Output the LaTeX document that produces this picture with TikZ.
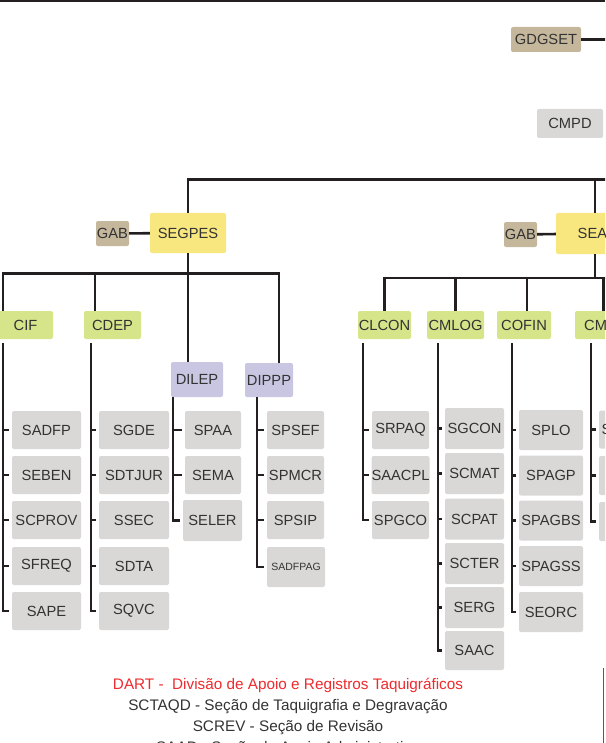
\documentclass[tikz,border=0pt]{standalone}
\usepackage{fontspec}
\setmainfont{Liberation Sans}
\usepackage{tikz}
\usetikzlibrary{positioning}
\definecolor{traco}{HTML}{231F20}
\definecolor{tinta}{HTML}{333333}
\definecolor{areia}{HTML}{C5B79B}
\definecolor{cinza}{HTML}{D9D8D6}
\definecolor{amarelo}{HTML}{F8E77F}
\definecolor{verde}{HTML}{D6E58A}
\definecolor{lilas}{HTML}{C9C6E2}
\definecolor{vermelho}{HTML}{EE2A2E}
\definecolor{borda}{HTML}{5A5A5A}
\tikzset{
  every node/.style={font=\fontsize{14.7}{16}\selectfont,text=tinta},
  caixa/.style={rounded corners=2pt,inner sep=0pt,align=center},
  gabinete/.style={caixa,fill=areia,minimum height=25pt},
  secao/.style={caixa,fill=cinza,minimum height=38pt},
  coordena/.style={caixa,fill=verde,minimum height=28pt},
  divisao/.style={caixa,fill=lilas,minimum height=35pt},
  secretaria/.style={caixa,fill=amarelo,minimum height=40pt},
  linha/.style={draw=traco,line width=2.6pt},
  legenda/.style={font=\fontsize{15.3}{18}\selectfont},
}
\begin{document}
\begin{tikzpicture}[x=1pt,y=-1pt]
\useasboundingbox (0,0) rectangle (605,743);
\clip (0,0) rectangle (605,743);
\fill[traco] (0,0) rectangle (605,2.3);

\node[gabinete,minimum width=70pt] (gdgset) at (546,39.5) {GDGSET};
\coordinate (gdgR) at (612,39.5);
\draw[linha] (gdgset) -- (gdgR);
\node[secao,minimum width=66pt,minimum height=29pt] (cmpd) at (570,123.5) {CMPD};

\node[secretaria,minimum width=76pt] (segpes) at (188,233) {SEGPES};
\node[gabinete,minimum width=33pt] (gab1) at (112.5,233.5) {GAB};
\node[secretaria,minimum width=78pt,minimum height=41pt] (sea) at (595,233.5) {};
\node[anchor=west,inner sep=0pt] (seatxt) at (577.5,233.5) {SEA};
\node[gabinete,minimum width=33pt] (gab2) at (520.5,234.5) {GAB};
\coordinate (busR) at (612,179.5);
\draw[linha] (segpes.north) |- (busR);
\draw[linha] (sea.north) -- (sea.north |- busR);
\draw[linha] (gab1) -- (segpes);
\draw[linha] (gab2) -- (sea);

\node[coordena,minimum width=55pt] (cif) at (25.5,325) {CIF};
\node[coordena,minimum width=57pt] (cdep) at (112.5,325) {CDEP};
\node[divisao,minimum width=52pt] (dilep) at (197,379.5) {DILEP};
\node[divisao,minimum width=48pt,minimum height=34pt] (dippp) at (269,380) {DIPPP};
\coordinate (busLa) at (3,273.3);
\coordinate (busLb) at (279,273.3);
\coordinate (tapcdep) at (95,273.3);
\draw[linha] (cif.north -| busLa) -- (busLa) -- (busLb) -- (dippp.north -| busLb);
\draw[linha] (tapcdep) -- (tapcdep |- cdep.north);
\draw[linha] (segpes.south) -- (segpes.south |- dilep.north);

\node[coordena,minimum width=53pt] (clcon) at (384.5,325) {CLCON};
\node[coordena,minimum width=57pt] (cmlog) at (455.5,325) {CMLOG};
\node[coordena,minimum width=54pt] (cofin) at (524,325) {COFIN};
\node[coordena,minimum width=57pt] (cm) at (603.5,325) {};
\node[anchor=west,inner sep=0pt] (cmtxt) at (584,325) {CM};
\coordinate (busRb) at (612,277.8);
\draw[linha] (clcon.north) |- (busRb);
\draw[linha] (sea.south) -- (sea.south |- busRb);
\draw[linha] (cmlog.north) -- (cmlog.north |- busRb);
\draw[linha] ([xshift=3pt]cofin.north) -- ([xshift=3pt]cofin.north |- busRb);
\draw[linha] (cm.north) -- (cm.north |- busRb);

\coordinate (colcif) at (3,343);
\coordinate (colcdep) at (91,343);
\coordinate (coldilep) at (173,397);
\coordinate (coldippp) at (257,397);
\coordinate (colclcon) at (363,343);
\coordinate (colcmlog) at (438,343);
\coordinate (colcofin) at (512,343);
\coordinate (colcm) at (591,343);

\node[secao,minimum width=69pt] (sadfp) at (46.5,430) {SADFP};
\node[secao,minimum width=69pt] (seben) at (46.5,475) {SEBEN};
\node[secao,minimum width=69pt] (scprov) at (46.5,520) {SCPROV};
\node[secao,minimum width=69pt] (sfreq) at (46.5,566) {SFREQ};
\node[secao,minimum width=69pt] (sape) at (46.5,611) {SAPE};
\draw[linha] (colcif) |- ([xshift=-2.5pt]sape.west)
  (colcif |- sadfp.west) -- ([xshift=-2.5pt]sadfp.west)
  (colcif |- seben.west) -- ([xshift=-2.5pt]seben.west)
  (colcif |- scprov.west) -- ([xshift=-2.5pt]scprov.west)
  (colcif |- sfreq.west) -- ([xshift=-2.5pt]sfreq.west);

\node[secao,minimum width=70pt] (sgde) at (134,430) {SGDE};
\node[secao,minimum width=70pt] (sdtjur) at (134,475) {SDTJUR};
\node[secao,minimum width=70pt] (ssec) at (134,520) {SSEC};
\node[secao,minimum width=70pt] (sdta) at (134,566) {SDTA};
\node[secao,minimum width=70pt] (sqvc) at (134,611) {SQVC};
\draw[linha] (colcdep) |- ([xshift=-2.5pt]sqvc.west)
  (colcdep |- sgde.west) -- ([xshift=-2.5pt]sgde.west)
  (colcdep |- sdtjur.west) -- ([xshift=-2.5pt]sdtjur.west)
  (colcdep |- ssec.west) -- ([xshift=-2.5pt]ssec.west)
  (colcdep |- sdta.west) -- ([xshift=-2.5pt]sdta.west);

\node[secao,minimum width=56pt] (spaa) at (213,430) {SPAA};
\node[secao,minimum width=56pt] (sema) at (213,475) {SEMA};
\node[secao,minimum width=59pt,minimum height=41pt] (seler) at (212.5,520.5) {SELER};
\draw[linha] (coldilep) |- ([xshift=-2.5pt]seler.west)
  (coldilep |- spaa.west) -- ([xshift=-2.5pt]spaa.west)
  (coldilep |- sema.west) -- ([xshift=-2.5pt]sema.west);

\node[secao,minimum width=57pt] (spsef) at (295.5,430) {SPSEF};
\node[secao,minimum width=57pt] (spmcr) at (295.5,475) {SPMCR};
\node[secao,minimum width=57pt] (spsip) at (295.5,520) {SPSIP};
\node[secao,minimum width=58pt,minimum height=40pt,font=\fontsize{10.5}{12}\selectfont] (sadfpag) at (296,567) {SADFPAG};
\draw[linha] (coldippp) |- ([xshift=-2.5pt]sadfpag.west)
  (coldippp |- spsef.west) -- ([xshift=-2.5pt]spsef.west)
  (coldippp |- spmcr.west) -- ([xshift=-2.5pt]spmcr.west)
  (coldippp |- spsip.west) -- ([xshift=-2.5pt]spsip.west);

\node[secao,minimum width=57pt] (srpaq) at (400.5,430) {SRPAQ};
\node[secao,minimum width=57pt] (saacpl) at (400.5,475) {SAACPL};
\node[secao,minimum width=57pt] (spgco) at (400.5,520) {SPGCO};
\draw[linha] (colclcon) |- ([xshift=-2.5pt]spgco.west)
  (colclcon |- srpaq.west) -- ([xshift=-2.5pt]srpaq.west)
  (colclcon |- saacpl.west) -- ([xshift=-2.5pt]saacpl.west);

\node[secao,minimum width=59pt,minimum height=41pt] (sgcon) at (474.5,428.5) {SGCON};
\node[secao,minimum width=59pt,minimum height=41pt] (scmat) at (474.5,473.5) {SCMAT};
\node[secao,minimum width=59pt,minimum height=41pt] (scpat) at (474.5,519) {SCPAT};
\node[secao,minimum width=59pt,minimum height=41pt] (scter) at (474.5,563.5) {SCTER};
\node[secao,minimum width=59pt,minimum height=41pt] (serg) at (474.5,607.5) {SERG};
\node[secao,minimum width=59pt,minimum height=39pt] (saac) at (474.5,650.5) {SAAC};
\draw[linha] (colcmlog) |- ([xshift=-2.5pt]saac.west)
  (colcmlog |- sgcon.west) -- ([xshift=-2.5pt]sgcon.west)
  (colcmlog |- scmat.west) -- ([xshift=-2.5pt]scmat.west)
  (colcmlog |- scpat.west) -- ([xshift=-2.5pt]scpat.west)
  (colcmlog |- scter.west) -- ([xshift=-2.5pt]scter.west)
  (colcmlog |- serg.west) -- ([xshift=-2.5pt]serg.west);

\node[secao,minimum width=64pt,minimum height=40pt] (splo) at (551,430) {SPLO};
\node[secao,minimum width=64pt,minimum height=40pt] (spagp) at (551,475.5) {SPAGP};
\node[secao,minimum width=64pt,minimum height=40pt] (spagbs) at (551,520.5) {SPAGBS};
\node[secao,minimum width=64pt,minimum height=40pt] (spagss) at (551,566) {SPAGSS};
\node[secao,minimum width=64pt,minimum height=40pt] (seorc) at (551,612) {SEORC};
\draw[linha] (colcofin) |- ([xshift=-2.5pt]seorc.west)
  (colcofin |- splo.west) -- ([xshift=-2.5pt]splo.west)
  (colcofin |- spagp.west) -- ([xshift=-2.5pt]spagp.west)
  (colcofin |- spagbs.west) -- ([xshift=-2.5pt]spagbs.west)
  (colcofin |- spagss.west) -- ([xshift=-2.5pt]spagss.west);

\node[secao,minimum width=62pt] (cma) at (630,429.5) {};
\node[anchor=west,inner sep=0pt] (cmatxt) at (601.5,429.5) {S};
\node[secao,minimum width=62pt,minimum height=39pt] (cmb) at (630,475.5) {};
\node[secao,minimum width=62pt,minimum height=39pt] (cmc) at (630,521.5) {};
\draw[linha] (colcm) |- ([xshift=-2.5pt]cmc.west)
  (colcm |- cma.west) -- ([xshift=-2.5pt]cma.west)
  (colcm |- cmb.west) -- ([xshift=-2.5pt]cmb.west);

\node[legenda,text=vermelho] (dart) at (288,685.5) {DART -~ Divisão de Apoio e Registros Taquigráficos};
\node[legenda] (sctaqd) at (288,706.5) {SCTAQD - Seção de Taquigrafia e Degravação};
\node[legenda] (screv) at (288,727.5) {SCREV - Seção de Revisão};
\node[legenda] (saad) at (288,748.5) {SAAD - Seção de Apoio Administrativo};

\draw[borda,line width=1.3pt] (603.5,668) -- (603.5,745);
\end{tikzpicture}
\end{document}
